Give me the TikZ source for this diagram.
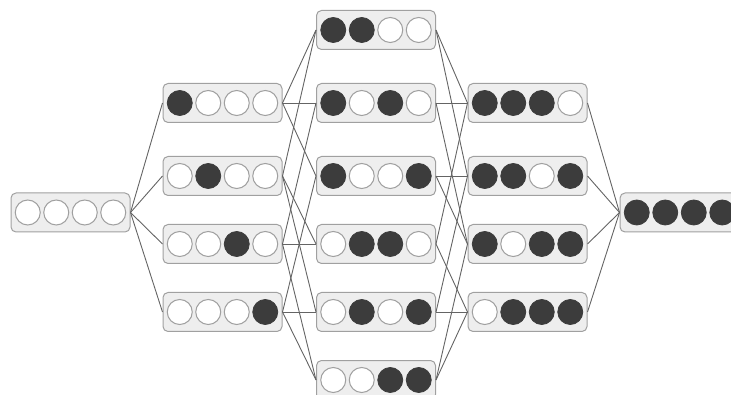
\documentclass[tikz,border=0pt]{standalone}
\usepackage{tikz}
\definecolor{cellfill}{RGB}{238, 238, 238}
\definecolor{celledge}{RGB}{160, 160, 160}
\definecolor{bitdark}{RGB}{60, 60, 60}
\definecolor{linkgray}{RGB}{100, 100, 100}

% one state: box name, x, y, then the style of each of the four bits
\newcommand{\statebox}[7]{%
  \node[cell] (#1) at (#2,#3) {};
  \node[#4] (#1-1) at ([xshift=-42.75pt]#1.center) {};
  \node[#5] (#1-2) at ([xshift=-14.25pt]#1.center) {};
  \node[#6] (#1-3) at ([xshift=14.25pt]#1.center) {};
  \node[#7] (#1-4) at ([xshift=42.75pt]#1.center) {};
}

\begin{document}
\begin{tikzpicture}[x=1pt, y=-1pt]
    % Styles
    \tikzstyle{cell} = [rectangle, draw=celledge, fill=cellfill, line width=1pt, rounded corners=5pt, minimum width=119pt, minimum height=39pt, inner sep=0pt]
    \tikzstyle{dot} = [circle, draw=bitdark, fill=bitdark, line width=0.8pt, minimum size=25pt, inner sep=0pt]
    \tikzstyle{hole} = [circle, draw=celledge, fill=white, line width=1pt, minimum size=25pt, inner sep=0pt]
    \tikzstyle{link} = [linkgray, line width=0.9pt]

    \useasboundingbox (0,0) rectangle (731,395);

    % Nodes
    \statebox{s0}{70.5}{212.5}{hole}{hole}{hole}{hole}

    \statebox{s1}{222.5}{103}{dot}{hole}{hole}{hole}
    \statebox{s2}{222.5}{176}{hole}{dot}{hole}{hole}
    \statebox{s3}{222.5}{244}{hole}{hole}{dot}{hole}
    \statebox{s4}{222.5}{312}{hole}{hole}{hole}{dot}

    \statebox{s12}{376}{30}{dot}{dot}{hole}{hole}
    \statebox{s13}{376}{103}{dot}{hole}{dot}{hole}
    \statebox{s14}{376}{176}{dot}{hole}{hole}{dot}
    \statebox{s23}{376}{244}{hole}{dot}{dot}{hole}
    \statebox{s24}{376}{312}{hole}{dot}{hole}{dot}
    \statebox{s34}{376}{380}{hole}{hole}{dot}{dot}

    \statebox{s123}{527.5}{103}{dot}{dot}{dot}{hole}
    \statebox{s124}{527.5}{176}{dot}{dot}{hole}{dot}
    \statebox{s134}{527.5}{244}{dot}{hole}{dot}{dot}
    \statebox{s234}{527.5}{312}{hole}{dot}{dot}{dot}

    \statebox{s1234}{679.5}{212.5}{dot}{dot}{dot}{dot}

    % Links
    \draw [link] (s0.east) -- (s1.west);
    \draw [link] (s0.east) -- (s2.west);
    \draw [link] (s0.east) -- (s3.west);
    \draw [link] (s0.east) -- (s4.west);

    \draw [link] (s1.east) -- (s12.west);
    \draw [link] (s1.east) -- (s13.west);
    \draw [link] (s1.east) -- (s14.west);
    \draw [link] (s2.east) -- (s12.west);
    \draw [link] (s2.east) -- (s23.west);
    \draw [link] (s2.east) -- (s24.west);
    \draw [link] (s3.east) -- (s13.west);
    \draw [link] (s3.east) -- (s23.west);
    \draw [link] (s3.east) -- (s34.west);
    \draw [link] (s4.east) -- (s14.west);
    \draw [link] (s4.east) -- (s24.west);
    \draw [link] (s4.east) -- (s34.west);

    \draw [link] (s12.east) -- (s123.west);
    \draw [link] (s12.east) -- (s124.west);
    \draw [link] (s13.east) -- (s123.west);
    \draw [link] (s13.east) -- (s134.west);
    \draw [link] (s14.east) -- (s124.west);
    \draw [link] (s14.east) -- (s134.west);
    \draw [link] (s23.east) -- (s123.west);
    \draw [link] (s23.east) -- (s234.west);
    \draw [link] (s24.east) -- (s124.west);
    \draw [link] (s24.east) -- (s234.west);
    \draw [link] (s34.east) -- (s134.west);
    \draw [link] (s34.east) -- (s234.west);

    \draw [link] (s123.east) -- (s1234.west);
    \draw [link] (s124.east) -- (s1234.west);
    \draw [link] (s134.east) -- (s1234.west);
    \draw [link] (s234.east) -- (s1234.west);
\end{tikzpicture}
\end{document}
